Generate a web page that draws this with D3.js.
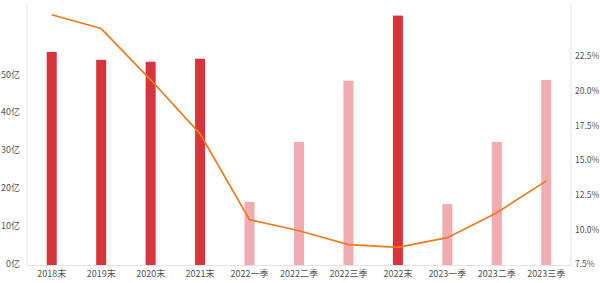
<!DOCTYPE html>
<html>
<head>
<meta charset="utf-8">
<script src="https://cdn.jsdelivr.net/npm/d3@7"></script>
<style>
  body { margin: 0; background: #fff; }
  text { font-family: "Noto Sans CJK SC", "Noto Sans", sans-serif; }
</style>
</head>
<body>
<svg id="drawing_region"></svg>
<script>
// categories along the x axis
const categories = ['2018末', '2019末', '2020末', '2021末', '2022一季', '2022二季', '2022三季',
                    '2022末', '2023一季', '2023二季', '2023三季'];
// bar values (亿), year-end bars are dark, quarterly bars are light
const barValues = [56.3, 54.2, 53.7, 54.5, 16.7, 32.5, 48.7, 65.9, 16.1, 32.5, 48.9];
const yearEnd = [true, true, true, true, false, false, false, true, false, false, false];
// line values (%)
const rateValues = [25.5, 24.5, 20.8, 16.9, 10.7, 9.9, 8.9, 8.7, 9.4, 11.2, 13.5];
// tick labels
const leftTicks = [0, 10, 20, 30, 40, 50];
const rightTicks = [7.5, 10, 12.5, 15, 17.5, 20, 22.5];

const config = {
    width: 600,
    height: 283,
    margin: {top: 5, right: 29, bottom: 18, left: 27}
};

const svg = d3.select('#drawing_region')
    .attr('width', config.width)
    .attr('height', config.height);

const inner_width = config.width - config.margin.left - config.margin.right;
const inner_height = config.height - config.margin.top - config.margin.bottom;

const chart = svg.append('g')
    .attr('transform', `translate(${config.margin.left}, ${config.margin.top})`);

const xscale = d3.scaleBand()
    .domain(categories)
    .range([0, inner_width]);

const yscale = d3.scaleLinear()
    .domain([0, 68.7])
    .range([inner_height, 0]);

const rscale = d3.scaleLinear()
    .domain([7.5, 26.2])
    .range([inner_height - 1, 0]);

// axis lines
chart.append('line')
    .attr('x1', 0).attr('x2', 0)
    .attr('y1', 0).attr('y2', inner_height)
    .attr('stroke', '#e4e4e4');
chart.append('line')
    .attr('x1', inner_width).attr('x2', inner_width)
    .attr('y1', 0).attr('y2', inner_height)
    .attr('stroke', '#e4e4e4');

// bars
const barWidth = 10;
chart.selectAll('rect.bar')
    .data(barValues)
    .enter()
    .append('rect')
    .attr('class', 'bar')
    .attr('x', (d, i) => xscale(categories[i]) + xscale.bandwidth() / 2 - barWidth / 2)
    .attr('y', d => yscale(d))
    .attr('width', barWidth)
    .attr('height', d => inner_height - yscale(d))
    .attr('fill', (d, i) => yearEnd[i] ? '#d9343b' : '#f0acb1');

// bottom axis
const xaxis = d3.axisBottom(xscale).tickSize(0).tickPadding(6);
const xaxis_group = chart.append('g')
    .attr('transform', `translate(0, ${inner_height})`)
    .call(xaxis);
xaxis_group.select('.domain').attr('stroke', '#e4e4e4');
xaxis_group.selectAll('text').attr('fill', '#555').attr('font-size', 9);

// left axis
const yaxis = d3.axisLeft(yscale)
    .tickValues(leftTicks)
    .tickSize(0)
    .tickPadding(7)
    .tickFormat(d => d + '亿');
const yaxis_group = chart.append('g').call(yaxis);
yaxis_group.select('.domain').remove();
yaxis_group.selectAll('text').attr('fill', '#555').attr('font-size', 9).attr('dy', '0.15em');

// right axis
const raxis = d3.axisRight(rscale)
    .tickValues(rightTicks)
    .tickSize(0)
    .tickPadding(4)
    .tickFormat(d => d.toFixed(1) + '%');
const raxis_group = chart.append('g')
    .attr('transform', `translate(${inner_width}, 0)`)
    .call(raxis);
raxis_group.select('.domain').remove();
raxis_group.selectAll('text').attr('fill', '#555').attr('font-size', 8.5);

// line
const line = d3.line()
    .x((d, i) => xscale(categories[i]) + xscale.bandwidth() / 2)
    .y(d => rscale(d));
chart.append('path')
    .datum(rateValues)
    .attr('d', line)
    .attr('fill', 'none')
    .attr('stroke', '#f07b1e')
    .attr('stroke-width', 1.7);
</script>
</body>
</html>
